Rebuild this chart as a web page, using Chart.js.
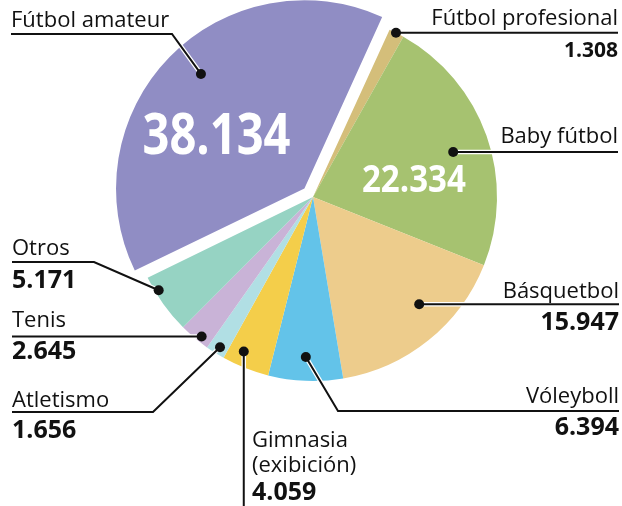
<!DOCTYPE html>
<html>
<head>
<meta charset="utf-8">
<script src="https://cdn.jsdelivr.net/npm/chart.js@4.4.1/dist/chart.umd.min.js"></script>
<style>
  html, body { margin: 0; padding: 0; background: #fff; }
  #chart { display: block; }
</style>
</head>
<body>
<canvas id="chart" width="622" height="506"></canvas>
<script>
const categories = ['Fútbol amateur', 'Fútbol profesional', 'Baby fútbol', 'Básquetbol', 'Vóleyboll', 'Gimnasia\n(exibición)', 'Atletismo', 'Tenis', 'Otros'];
const players = [38134, 1308, 22334, 15947, 6394, 4059, 1656, 2645, 5171];
const sliceColors = ['#908dc4', '#d4be7a', '#a6c270', '#edcc8c', '#63c3e9', '#f4ce4a', '#b1dfe4', '#c9b3d7', '#96d3c3'];
const explodedSlice = 0;

const FONT = '"Open Sans", "DejaVu Sans", sans-serif';

// 38134 -> "38.134"
const fmt = v => String(v).replace(/\B(?=(\d{3})+(?!\d))/g, '.');

// callout placement: dot at fraction t along the arc and r of the radius
const callouts = [
  { t: 0.526, r: 0.82, align: 'left', x: 11, y: 27,
    inside: { t: 0.40, r: 0.54, size: 57, width: 148 },
    route: d => [[172, 34], [11, 34]] },
  { t: 0.46, r: 1.0, align: 'right', x: 618, y: 25, valueY: 57, valueSize: 21,
    route: d => [[618, d.y]] },
  { t: 0.52, r: 0.80, align: 'right', x: 618, y: 143,
    inside: { t: 0.63, r: 0.555, size: 37, width: 104 },
    route: d => [[618, d.y]] },
  { t: 0.40, r: 0.82, align: 'right', x: 619, y: 298, valueY: 330,
    route: d => [[619, d.y]] },
  { t: 0.51, r: 0.87, align: 'right', x: 619, y: 403, valueY: 435,
    route: d => [[338, 411], [619, 411]] },
  { t: 0.67, r: 0.92, align: 'left', x: 252, y: 447, valueY: 500,
    route: d => [[d.x, 510]] },
  { t: 0.44, r: 0.96, align: 'left', x: 12, y: 407, valueY: 438,
    route: d => [[153, 412], [12, 412]] },
  { t: 0.35, r: 0.97, align: 'left', x: 12, y: 327, valueY: 359,
    route: d => [[12, d.y]] },
  { t: 0.73, r: 0.98, align: 'left', x: 12, y: 255, valueY: 288,
    route: d => [[94, 262], [12, 262]] },
];

function arcPoint(el, t, r) {
  const p = el.getProps(['x', 'y', 'startAngle', 'endAngle', 'outerRadius'], true);
  const off = (el.options.offset || 0) / 4;
  const mid = (p.startAngle + p.endAngle) / 2;
  const circ = p.endAngle - p.startAngle;
  const R = p.outerRadius + off * (1 - Math.sin(Math.min(Math.PI, circ)));
  const a = p.startAngle + t * circ;
  return {
    x: p.x + Math.cos(mid) * off + Math.cos(a) * R * r,
    y: p.y + Math.sin(mid) * off + Math.sin(a) * R * r,
  };
}

const calloutPlugin = {
  id: 'callouts',
  afterDatasetsDraw(chart) {
    const ctx = chart.ctx;
    const arcs = chart.getDatasetMeta(0).data;

    callouts.forEach((c, i) => {
      const el = arcs[i];
      const dot = arcPoint(el, c.t, c.r);

      // big white value inside the slice, squeezed to a condensed look
      if (c.inside) {
        const p = arcPoint(el, c.inside.t, c.inside.r);
        const txt = fmt(players[i]);
        ctx.save();
        ctx.fillStyle = '#fff';
        ctx.font = `bold ${c.inside.size}px ${FONT}`;
        ctx.textAlign = 'center';
        ctx.textBaseline = 'middle';
        const w = ctx.measureText(txt).width;
        ctx.translate(p.x, p.y);
        ctx.scale(c.inside.width / w, 1);
        ctx.fillText(txt, 0, 0);
        ctx.restore();
      }

      ctx.save();
      // leader line with a thin white halo
      const pts = [[dot.x, dot.y]].concat(c.route(dot));
      [['#fff', 4.5], ['#111', 2]].forEach(([col, w]) => {
        ctx.strokeStyle = col;
        ctx.lineWidth = w;
        ctx.lineJoin = 'miter';
        ctx.beginPath();
        pts.forEach(([x, y], k) => (k ? ctx.lineTo(x, y) : ctx.moveTo(x, y)));
        ctx.stroke();
      });
      ctx.fillStyle = '#111';
      ctx.beginPath();
      ctx.arc(dot.x, dot.y, 5, 0, Math.PI * 2);
      ctx.fill();

      // label text
      ctx.textAlign = c.align;
      ctx.textBaseline = 'alphabetic';
      ctx.font = `22px ${FONT}`;
      categories[i].split('\n').forEach((line, k) => {
        ctx.fillText(line, c.x, c.y + k * 25);
      });
      if (c.valueY) {
        ctx.font = `bold ${c.valueSize || 25}px ${FONT}`;
        ctx.fillText(fmt(players[i]), c.x, c.valueY);
      }
      ctx.restore();
    });
  }
};

new Chart(document.getElementById('chart'), {
  type: 'pie',
  data: {
    labels: categories,
    datasets: [{
      data: players,
      backgroundColor: sliceColors,
      borderWidth: 0,
      rotation: -116,
      offset: players.map((v, i) => (i === explodedSlice ? 48 : 0)),
    }],
  },
  options: {
    responsive: false,
    animation: false,
    radius: 184,
    layout: { padding: { left: 4, right: 0, top: 0, bottom: 112 } },
    plugins: {
      legend: { display: false },
      tooltip: { enabled: false },
    },
    events: [],
  },
  plugins: [calloutPlugin],
});
</script>
</body>
</html>
